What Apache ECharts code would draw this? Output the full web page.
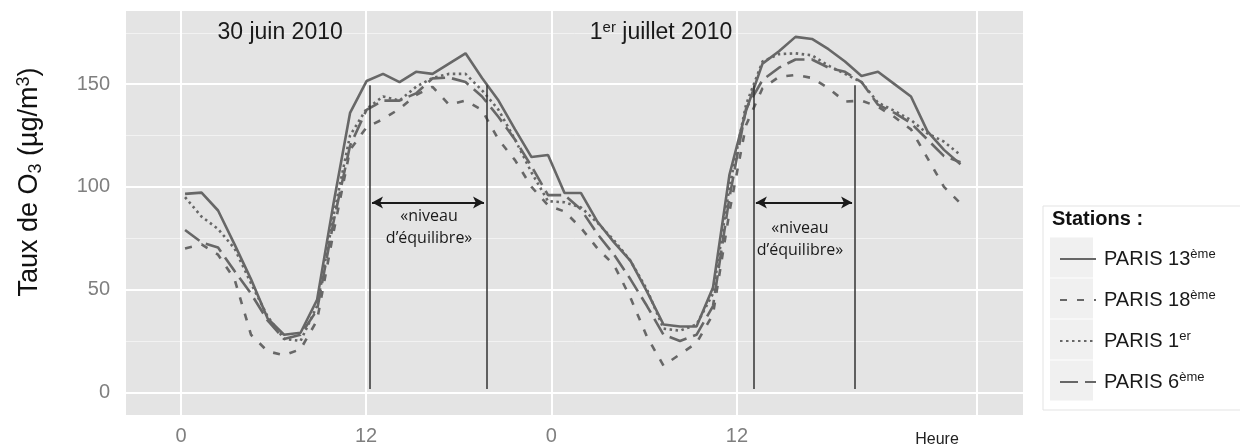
<!DOCTYPE html>
<html><head><meta charset="utf-8">
<script src="https://cdn.jsdelivr.net/npm/echarts@6/dist/echarts.min.js"></script>
<style>html,body{margin:0;padding:0;background:#fff}#c{width:1240px;height:448px}</style>
</head><body><div id="c"></div>
<script>
// ---- data (hourly ozone readings, µg/m3) ----
const hours = [0,1,2,3,4,5,6,7,8,9,10,11,12,13,14,15,16,17,18,19,20,21,22,23,24,25,26,27,28,29,30,31,32,33,34,35,36,37,38,39,40,41,42,43,44,45,46,47];
const paris13 = [96.6,97.2,88.5,72,55,36,28,29,45,92,136,151.5,155,151,156,155,160,165,153,142,128,114.5,115.5,97,97,83,73,64,49,33,32,32,51,106,137,160,166,173,172,167,161,154,156,150,144,127,118,111];
const paris18 = [70,72,67,55,28,20,18,21,35,78,118,129,133,138,144.7,148.7,140,142,137.4,123,113,100,91,88,80,70,62,46,27,13,18.5,24,38,88,130,148,153.5,154.5,153,148,141.5,142,139,134,128,114,100,92];
const paris1 = [95,85.5,79.5,70,53,37,26,25,42,86,125,138,144,142,148.7,153,155,155,147,137.5,123,107,93,92.5,90,82.5,74,64,50,31,30,33,48,100,140,161,164.6,165,164,159,155,151,141,137,132.5,126,122,115.5];
const paris6 = [79,73,70.5,59,48,35,26,28,40,83,120,137.5,142,142,145.5,152.8,153.2,151,144,134,123,110,96,96,89,77,67,55,42,28,25,28,42,95,138,152,158,162,162,158,156,151,140,136,131,123,115,112];
const seriesNames = ['PARIS 13ème','PARIS 18ème','PARIS 1er','PARIS 6ème'];
const xTickValues = [-0.24, 10.97, 22.2, 33.45];
const xTickLabels = ['0','12','0','12'];
const xExtraGrid = [48];
const yTickValues = [0,50,100,150];
const yMinorValues = [25,75,125,175];
const eqStart = [11.21, 34.48];
const eqEnd = [18.30, 40.61];
const dateTexts = ['30 juin 2010', '1{s|er} juillet 2010'];

const FONT = '"Liberation Sans", Arial, sans-serif';
const LINE = '#676767';
const seriesValues = [paris13, paris18, paris1, paris6];
const dashes = ['solid', [7, 10], [2.5, 3.5], [18, 7]];

const chart = echarts.init(document.getElementById('c'), null, {renderer: 'canvas'});

const dataSeries = seriesNames.map((n, k) => ({
  name: n, type: 'line', z: 10, symbol: 'none', silent: true, animation: false,
  data: hours.map((h, i) => [h, seriesValues[k][i]]),
  lineStyle: {color: LINE, width: 2.6, type: dashes[k]},
  itemStyle: {color: LINE}
}));

const gridLines = [];
yTickValues.forEach(v => gridLines.push({yAxis: v, lineStyle: {color: '#ffffff', width: 2, type: 'solid'}}));
yMinorValues.forEach(v => gridLines.push({yAxis: v, lineStyle: {color: '#F2F2F2', width: 1, type: 'solid'}}));
xTickValues.concat(xExtraGrid).forEach(v => gridLines.push({xAxis: v, lineStyle: {color: '#ffffff', width: 2, type: 'solid'}}));

const annLines = [];
eqStart.forEach((s, k) => {
  annLines.push([{coord: [s, 1.6]}, {coord: [s, 149.5]}]);
  annLines.push([{coord: [eqEnd[k], 1.6]}, {coord: [eqEnd[k], 149.5]}]);
});
const arrowLines = eqStart.map((s, k) => [{coord: [s + 0.12, 92.4]}, {coord: [eqEnd[k] - 0.18, 92.4]}]);

const option = {
  animation: false,
  backgroundColor: '#ffffff',
  grid: {left: 126, right: 217, top: 11, bottom: 33, show: true, backgroundColor: '#E4E4E4', borderWidth: 0},
  xAxis: {
    type: 'value', min: -3.58, max: 50.79,
    axisLine: {show: false}, splitLine: {show: false},
    axisTick: {show: true, customValues: xTickValues, length: 6, lineStyle: {color: '#8a8a8a', width: 1.5}},
    axisLabel: {customValues: xTickValues, color: '#7f7f7f', fontSize: 20, fontFamily: FONT, margin: 11,
      formatter: v => { let b = 0; xTickValues.forEach((t, i) => { if (Math.abs(t - v) < Math.abs(xTickValues[b] - v)) b = i; }); return xTickLabels[b]; }}
  },
  yAxis: {
    type: 'value', min: -11.04, max: 185.6,
    axisLine: {show: false}, splitLine: {show: false},
    axisTick: {show: true, customValues: yTickValues, length: 6, lineStyle: {color: '#8a8a8a', width: 1.5}},
    axisLabel: {customValues: yTickValues, color: '#7f7f7f', fontSize: 20, fontFamily: FONT, margin: 16}
  },
  title: {text: 'Stations :', left: 1047, top: 204, textStyle: {fontSize: 20, fontWeight: 'bold', color: '#111', fontFamily: FONT}},
  legend: {
    orient: 'vertical', left: 1054, top: 243, itemWidth: 36, itemHeight: 14, itemGap: 19,
    data: seriesNames,
    itemStyle: {opacity: 0},
    formatter: n => '{n|' + n.replace(/(ème|er)$/, '') + '}{s|' + n.match(/(ème|er)$/)[1] + '}',
    textStyle: {color: '#1a1a1a', fontFamily: FONT, fontSize: 20, lineHeight: 22, padding: [0, 0, 0, 3],
      rich: {n: {fontSize: 20, lineHeight: 22, fontFamily: FONT, color: '#1a1a1a'},
             s: {fontSize: 13, lineHeight: 8, verticalAlign: 'top', fontFamily: FONT, color: '#1a1a1a'}}}
  },
  graphic: [
    {type: 'rect', z: 0, shape: {x: 1043, y: 206, width: 220, height: 204}, style: {fill: '#ffffff', stroke: '#E3E3E3', lineWidth: 1}},
    {type: 'rect', z: 0, shape: {x: 1050, y: 237.5, width: 43, height: 40}, style: {fill: '#F0F0F0'}},
    {type: 'rect', z: 0, shape: {x: 1050, y: 278.5, width: 43, height: 40}, style: {fill: '#F0F0F0'}},
    {type: 'rect', z: 0, shape: {x: 1050, y: 319.5, width: 43, height: 40}, style: {fill: '#F0F0F0'}},
    {type: 'rect', z: 0, shape: {x: 1050, y: 360.5, width: 43, height: 40}, style: {fill: '#F0F0F0'}},
    {type: 'text', x: 30, y: 182, rotation: Math.PI / 2, z: 5,
      style: {text: 'Taux de O{sub|3} (µg/m{sup|3})', fontSize: 27, fontFamily: FONT, fill: '#111', align: 'center', verticalAlign: 'middle', lineHeight: 30,
        rich: {sub: {fontSize: 18, lineHeight: 13, verticalAlign: 'bottom', fontFamily: FONT, fill: '#111'},
               sup: {fontSize: 18, lineHeight: 9, verticalAlign: 'top', fontFamily: FONT, fill: '#111'}}}},
    {type: 'text', x: 937, y: 440, style: {text: 'Heure', fontSize: 16, fontFamily: FONT, fill: '#222', align: 'center', verticalAlign: 'middle'}}
  ],
  series: [
    {type: 'line', name: '_grid', data: [], z: 1, silent: true,
      markLine: {silent: true, z: 1, symbol: 'none', animation: false, label: {show: false}, data: gridLines}},
    ...dataSeries,
    {type: 'line', name: '_ann', data: [], z: 20, silent: true,
      markLine: {silent: true, z: 20, symbol: 'none', animation: false, label: {show: false},
        lineStyle: {color: '#333', width: 1.5, type: 'solid'}, data: annLines},
      markPoint: {silent: true, z: 21, symbol: 'rect', symbolSize: 1, itemStyle: {color: 'rgba(0,0,0,0)'}, animation: false,
        label: {show: true, position: 'inside', color: '#1a1a1a', fontFamily: '"Open Sans", sans-serif', fontSize: 16, lineHeight: 22, align: 'center'},
        data: [
          {coord: [14.79, 80.2], label: {formatter: '«niveau\nd’équilibre»'}},
          {coord: [37.27, 74.6], label: {formatter: '«niveau\nd’équilibre»'}},
          {coord: [5.76, 174.9], label: {formatter: dateTexts[0], fontFamily: FONT, fontSize: 23, color: '#1a1a1a', lineHeight: 26}},
          {coord: [28.85, 174.9], label: {formatter: dateTexts[1], fontFamily: FONT, fontSize: 23, color: '#1a1a1a', lineHeight: 26,
            rich: {s: {fontSize: 15, lineHeight: 10, verticalAlign: 'top', fontFamily: FONT, color: '#1a1a1a'}}}}
        ]}},
    {type: 'line', name: '_arrows', data: [], z: 20, silent: true,
      markLine: {silent: true, z: 20, symbol: ['arrow', 'arrow'], symbolSize: [9, 11], animation: false, label: {show: false},
        lineStyle: {color: '#1a1a1a', width: 2, type: 'solid'}, data: arrowLines}}
  ]
};
chart.setOption(option);
</script></body></html>
